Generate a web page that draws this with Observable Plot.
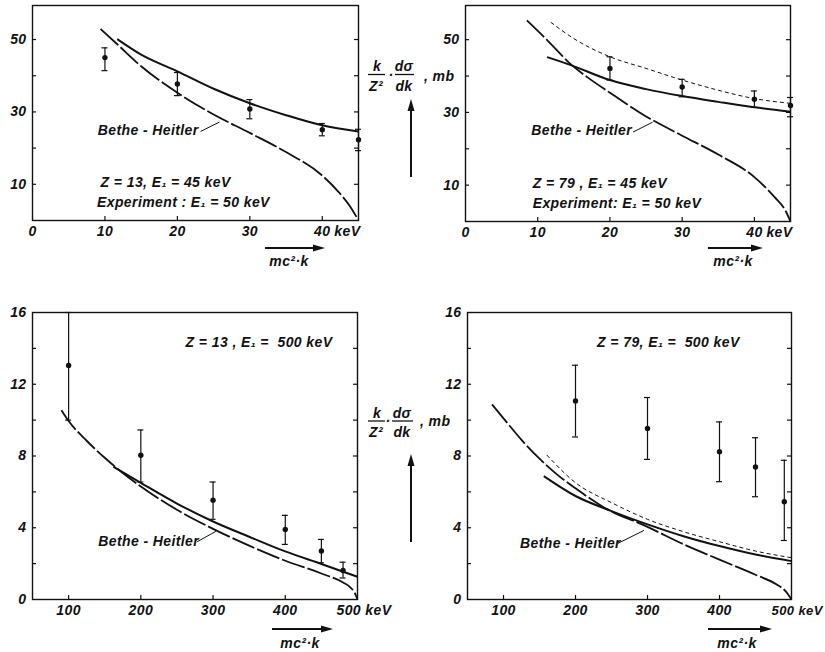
<!DOCTYPE html>
<html><head><meta charset="utf-8">
<script src="https://cdn.jsdelivr.net/npm/d3@7"></script>
<script src="https://cdn.jsdelivr.net/npm/@observablehq/plot@0.6"></script>
<style>
body{margin:0;background:#fff;}
#root{position:relative;width:825px;height:652px;overflow:hidden;background:#fff;}
#root > svg{position:absolute;}
#overlay{position:absolute;left:0;top:0;pointer-events:none;}
#overlay text{font-family:"Liberation Sans","DejaVu Sans",Arial,sans-serif;font-style:italic;font-weight:bold;fill:#111;font-size:14px;letter-spacing:0.4px;}
</style></head>
<body>
<div id="root"></div>
<script>
const ink = "#111";
// ---------- Top-left: Z = 13, E1 = 45 keV ----------
const tlBetheHeitler = [[9.4,52.9],[11.7,48.7],[15,42.6],[20,35.3],[25,29.3],[30,24.2],[35,18.9],[40,12.4],[42.2,8],[43.8,4],[45,0]];
const tlTheory = [[11.7,50.1],[15,45.8],[20,41.2],[25,36.4],[30,32.4],[35,29.1],[40,26.3],[45,24.6]];
const tlExpX  = [10, 20, 30, 40, 45];
const tlExpY  = [45.0, 37.7, 30.8, 25.1, 22.3];
const tlExpLo = [41.4, 34.5, 28.1, 23.4, 19.3];
const tlExpHi = [47.7, 40.9, 33.4, 26.8, 25.2];
// ---------- Top-right: Z = 79, E1 = 45 keV ----------
const trBetheHeitler = [[8.5,55.3],[11.3,49.9],[14.6,43.2],[17,39.5],[20,35.4],[25,28.9],[30,23.6],[35,18.4],[40,12.2],[42.8,6.7],[44.3,3],[45,0]];
const trTheory = [[11.3,45.2],[14.6,43],[20,38.9],[25,36.4],[30,34.5],[35,32.9],[40,31.4],[45,30.2]];
const trTheory2 = [[11.8,54.8],[15,50.3],[20,45.3],[25,42.1],[30,38.9],[35,36.1],[40,33.8],[45,32.5]];
const trExpX  = [20, 30, 40, 45];
const trExpY  = [42.1, 37.0, 33.6, 31.9];
const trExpLo = [38.9, 34.3, 31.4, 28.8];
const trExpHi = [45.3, 39.1, 35.9, 34.1];
// ---------- Bottom-left: Z = 13, E1 = 500 keV ----------
const blBetheHeitler = [[90,10.55],[100,9.95],[125,8.85],[150,7.9],[175,7.05],[200,6.3],[250,5.0],[300,3.94],[350,3.0],[400,2.16],[450,1.45],[480,0.95],[490,0.68],[496,0.38],[500,0]];
const blTheory = [[162,7.4],[200,6.5],[250,5.35],[300,4.35],[350,3.5],[400,2.68],[450,1.98],[500,1.27]];
const blExpX  = [100, 200, 300, 400, 450, 480];
const blExpY  = [13.05, 8.04, 5.54, 3.9, 2.7, 1.62];
const blExpLo = [10.0, 6.55, 4.47, 3.07, 2.05, 1.2];
const blExpHi = [16.0, 9.45, 6.55, 4.69, 3.35, 2.08];
// ---------- Bottom-right: Z = 79, E1 = 500 keV ----------
const brBetheHeitler = [[84,10.88],[100,10.1],[125,8.9],[150,7.85],[175,6.95],[200,6.2],[240,5.12],[300,4.05],[350,3.08],[400,2.22],[450,1.38],[480,0.82],[492,0.45],[500,0]];
const brTheory = [[156,6.88],[200,5.77],[250,4.93],[300,4.19],[350,3.53],[400,2.98],[450,2.51],[500,2.14]];
const brTheory2 = [[160,8.06],[200,6.51],[250,5.4],[300,4.47],[350,3.78],[400,3.22],[450,2.7],[500,2.33]];
const brExpX  = [200, 300, 400, 450, 490];
const brExpY  = [11.07, 9.54, 8.24, 7.39, 5.45];
const brExpLo = [9.06, 7.81, 6.57, 5.73, 3.29];
const brExpHi = [13.06, 11.26, 9.9, 9.02, 7.76];
// ---------- ticks & labels ----------
const topYTicks = [10, 20, 30, 40, 50];
const topYLabels = [10, 30, 50];
const topXTicks = [10, 20, 30, 40];
const topXLabels = [0, 10, 20, 30, 40];
const botYTicks = [2, 4, 6, 8, 10, 12, 14];
const botYLabels = [0, 4, 8, 12, 16];
const botXTicks = [100, 200, 300, 400];
const botXLabels = [100, 200, 300, 400];
// annotations [x, y, text]
const tlNotes = [[9.0, 24.8, "Bethe - Heitler"], [9.4, 10.6, "Z = 13, E\u2081 = 45 keV"], [8.9, 5.0, "Experiment : E\u2081 = 50 keV"]];
const trNotes = [[9.1, 24.9, "Bethe - Heitler"], [9.3, 10.4, "Z = 79 , E\u2081 = 45 keV"], [9.3, 4.9, "Experiment: E\u2081 = 50 keV"]];
const blNotes = [[141, 3.22, "Bethe - Heitler"], [262, 14.3, "Z = 13 , E\u2081 =  500 keV"]];
const brNotes = [[123, 3.13, "Bethe - Heitler"], [230, 14.3, "Z = 79, E\u2081 =  500 keV"]];
// leader lines [x1, y1, x2, y2]
const tlLeader = [[23.2, 24.6, 25.8, 27.2]];
const trLeader = [[23.2, 24.6, 25.9, 27.3]];
const blLeader = [[278, 3.22, 304, 3.8]];
const brLeader = [[259, 3.13, 295, 3.85]];

const font = '"Liberation Sans","DejaVu Sans",Arial,sans-serif';
const toPts = (xs, ys, lo, hi) => xs.map((x, i) => ({x, y: ys[i], lo: lo[i], hi: hi[i]}));

function panel(o) {
  const frameW = o.width - o.ml - o.mr, frameH = o.height - o.mt - o.mb;
  const pts = toPts(o.ex, o.ey, o.elo, o.ehi);
  const marks = [
    Plot.frame({stroke: ink, strokeWidth: 1.4}),
    Plot.tickY(o.yTicks, {y: d => d, insetRight: frameW - 4, stroke: ink, strokeWidth: 1.2}),
    Plot.tickY(o.yTicks, {y: d => d, insetLeft: frameW - 4, stroke: ink, strokeWidth: 1.2}),
    Plot.tickX(o.xTicks, {x: d => d, insetTop: frameH - 4, stroke: ink, strokeWidth: 1.2}),
    Plot.axisY(o.yLabels, {tickSize: 0, tickPadding: 6, label: null, fontSize: 14, tickFormat: d => String(d)}),
    Plot.axisX(o.xLabels, {tickSize: 0, tickPadding: 6, label: null, fontSize: 14, tickFormat: d => String(d)}),
    Plot.text([o.unit[0]], {x: d => d, frameAnchor: "bottom", text: () => o.unit[1], textAnchor: "start", lineAnchor: "top", dx: o.unit[2], dy: 6, fontSize: o.unit[3] || 14}),
  ];
  for (const c of o.curves) {
    marks.push(Plot.line(c.data, {x: d => d[0], y: d => d[1], curve: "monotone-x", stroke: ink,
      strokeWidth: c.w, strokeDasharray: c.dash, strokeLinecap: "butt"}));
  }
  marks.push(
    Plot.ruleX(pts, {x: "x", y1: "lo", y2: "hi", stroke: ink, strokeWidth: 1.2}),
    Plot.ruleY(pts, {y: "hi", x1: "x", x2: "x", insetLeft: -3, insetRight: -3, stroke: ink, strokeWidth: 1.2}),
    Plot.ruleY(pts, {y: "lo", x1: "x", x2: "x", insetLeft: -3, insetRight: -3, stroke: ink, strokeWidth: 1.2}),
    Plot.dot(pts, {x: "x", y: "y", r: 2.7, fill: ink, stroke: null}),
    Plot.link(o.leader, {x1: d => d[0], y1: d => d[1], x2: d => d[2], y2: d => d[3], stroke: ink, strokeWidth: 1}),
    Plot.text(o.notes, {x: d => d[0], y: d => d[1], text: d => d[2], textAnchor: "start", fontSize: 14})
  );
  const svg = Plot.plot({
    width: o.width, height: o.height,
    marginLeft: o.ml, marginRight: o.mr, marginTop: o.mt, marginBottom: o.mb,
    x: {domain: o.xDomain, label: null},
    y: {domain: o.yDomain, label: null},
    style: {fontFamily: font, fontStyle: "italic", fontWeight: "bold", color: ink, background: "transparent", overflow: "visible", fontSize: "14px", letterSpacing: "0.4px"},
    marks
  });
  svg.style.left = o.left + "px";
  svg.style.top = o.top + "px";
  document.getElementById("root").appendChild(svg);
}

const LONG = "24,3", SHORT = "4,3";
panel({left: 0, top: 0, width: 412, height: 270, ml: 32, mr: 54, mt: 5, mb: 50,
  xDomain: [0, 45], yDomain: [0, 59.4], yTicks: topYTicks, yLabels: topYLabels, xTicks: topXTicks, xLabels: topXLabels,
  unit: [40, "keV", 12],
  curves: [{data: tlBetheHeitler, w: 1.8, dash: LONG}, {data: tlTheory, w: 2}],
  ex: tlExpX, ey: tlExpY, elo: tlExpLo, ehi: tlExpHi, notes: tlNotes, leader: tlLeader});
panel({left: 412, top: 0, width: 413, height: 270, ml: 53, mr: 35, mt: 5, mb: 49,
  xDomain: [0, 45], yDomain: [0, 59.4], yTicks: topYTicks, yLabels: topYLabels, xTicks: topXTicks, xLabels: topXLabels,
  unit: [40, "keV", 12],
  curves: [{data: trBetheHeitler, w: 1.8, dash: LONG}, {data: trTheory, w: 2}, {data: trTheory2, w: 1, dash: SHORT}],
  ex: trExpX, ey: trExpY, elo: trExpLo, ehi: trExpHi, notes: trNotes, leader: trLeader});
panel({left: 0, top: 270, width: 412, height: 382, ml: 32, mr: 55, mt: 42, mb: 53,
  xDomain: [50, 500], yDomain: [0, 16], yTicks: botYTicks, yLabels: botYLabels, xTicks: botXTicks, xLabels: botXLabels,
  unit: [500, "500 keV", -21],
  curves: [{data: blBetheHeitler, w: 1.8, dash: LONG}, {data: blTheory, w: 2}],
  ex: blExpX, ey: blExpY, elo: blExpLo, ehi: blExpHi, notes: blNotes, leader: blLeader});
panel({left: 412, top: 270, width: 413, height: 382, ml: 55, mr: 34, mt: 42, mb: 53,
  xDomain: [50, 500], yDomain: [0, 16], yTicks: botYTicks, yLabels: botYLabels, xTicks: botXTicks, xLabels: botXLabels,
  unit: [500, "500 keV", -20, 13],
  curves: [{data: brBetheHeitler, w: 1.8, dash: LONG}, {data: brTheory, w: 2}, {data: brTheory2, w: 1, dash: SHORT}],
  ex: brExpX, ey: brExpY, elo: brExpLo, ehi: brExpHi, notes: brNotes, leader: brLeader});

// ---------- axis titles & arrows (overlay) ----------
const ov = `
<svg id="overlay" width="825" height="652" xmlns="http://www.w3.org/2000/svg">
 <g>
  <text x="377" y="66" text-anchor="middle" dominant-baseline="central">k</text>
  <line x1="368" x2="385" y1="74.5" y2="74.5" stroke="#111" stroke-width="1.3"/>
  <text x="376" y="86" text-anchor="middle" dominant-baseline="central">Z²</text>
  <text x="391" y="75" text-anchor="middle" dominant-baseline="central">·</text>
  <text x="404" y="66" text-anchor="middle" dominant-baseline="central">dσ</text>
  <line x1="395" x2="414" y1="74.5" y2="74.5" stroke="#111" stroke-width="1.3"/>
  <text x="404" y="86" text-anchor="middle" dominant-baseline="central">dk</text>
  <text x="424" y="76" dominant-baseline="central">, mb</text>
  <line x1="411" x2="411" y1="177" y2="108" stroke="#111" stroke-width="2"/>
  <polygon points="411,99 407.5,111 414.5,111" fill="#111"/>
 </g>
 <g>
  <text x="377" y="413" text-anchor="middle" dominant-baseline="central">k</text>
  <line x1="368" x2="385" y1="421" y2="421" stroke="#111" stroke-width="1.3"/>
  <text x="376" y="432" text-anchor="middle" dominant-baseline="central">Z²</text>
  <text x="388" y="421" text-anchor="middle" dominant-baseline="central">·</text>
  <text x="402" y="413" text-anchor="middle" dominant-baseline="central">dσ</text>
  <line x1="392" x2="413" y1="421" y2="421" stroke="#111" stroke-width="1.3"/>
  <text x="402" y="432" text-anchor="middle" dominant-baseline="central">dk</text>
  <text x="420" y="421" dominant-baseline="central">, mb</text>
  <line x1="411" x2="411" y1="542" y2="463" stroke="#111" stroke-width="2"/>
  <polygon points="411,454 407.5,466 414.5,466" fill="#111"/>
 </g>
 <g>
  <line x1="265" x2="316" y1="248" y2="248" stroke="#111" stroke-width="1.8"/>
  <polygon points="325,248 313,244.5 313,251.5" fill="#111"/>
  <text x="289" y="261" text-anchor="middle" dominant-baseline="central">mc²·k</text>
  <line x1="708" x2="754" y1="248" y2="248" stroke="#111" stroke-width="1.8"/>
  <polygon points="763,248 751,244.5 751,251.5" fill="#111"/>
  <text x="733" y="261" text-anchor="middle" dominant-baseline="central">mc²·k</text>
  <line x1="272" x2="324" y1="629" y2="629" stroke="#111" stroke-width="1.8"/>
  <polygon points="333,629 321,625.5 321,632.5" fill="#111"/>
  <text x="300" y="643" text-anchor="middle" dominant-baseline="central">mc²·k</text>
  <line x1="708" x2="763" y1="629" y2="629" stroke="#111" stroke-width="1.8"/>
  <polygon points="772,629 760,625.5 760,632.5" fill="#111"/>
  <text x="737" y="643" text-anchor="middle" dominant-baseline="central">mc²·k</text>
 </g>
</svg>`;
document.getElementById("root").insertAdjacentHTML("beforeend", ov);
</script>
</body></html>
